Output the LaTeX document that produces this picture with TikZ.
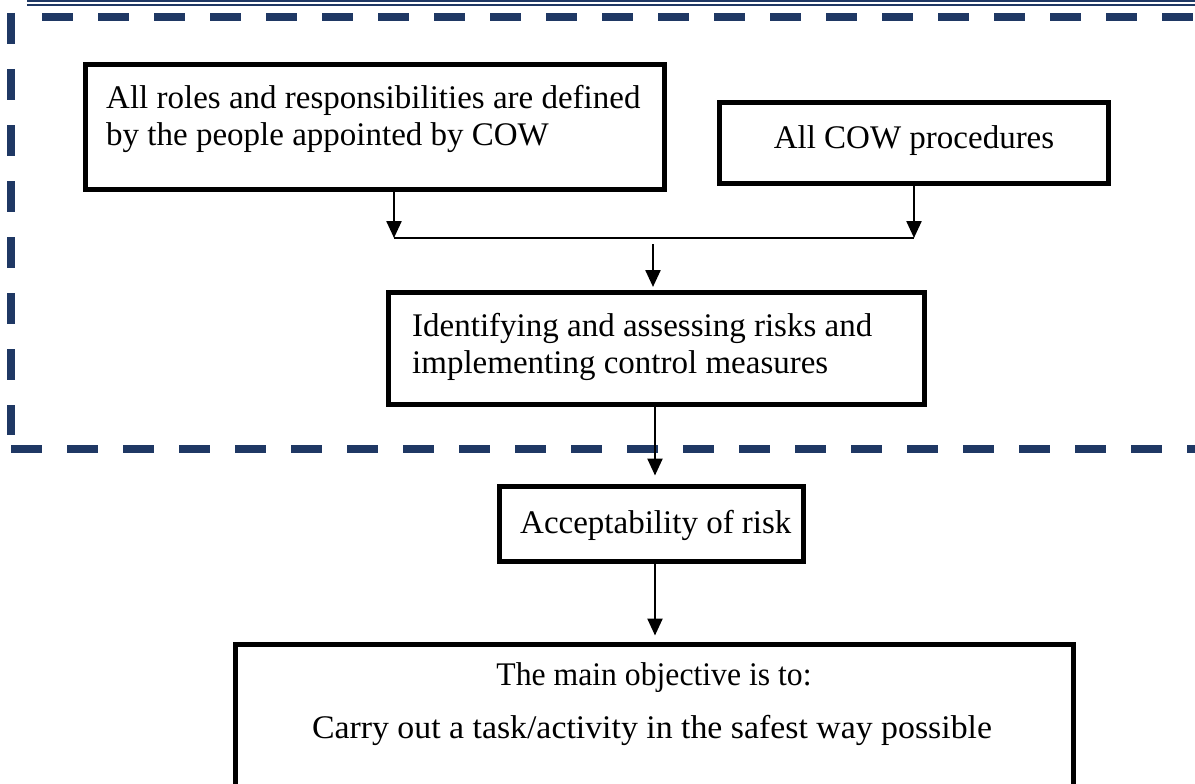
\documentclass[tikz,border=0pt]{standalone}
\usepackage{fontspec}
\usepackage{graphicx}
\setmainfont{Liberation Serif}
\usetikzlibrary{arrows.meta}
\definecolor{navy}{RGB}{31,56,100}
\begin{document}
\begin{tikzpicture}[x=1pt,y=-1pt,
  box/.style={draw=black, line width=5pt, inner sep=0pt},
  txt/.style={inner sep=0pt, anchor=base west, font=\fontsize{33}{37}\selectfont},
  arr/.style={line width=2.4pt, -{Triangle[length=17pt,width=15pt]}},
  bord/.style={draw=navy, line width=8pt, dash pattern=on 31pt off 25pt}]
\useasboundingbox (0,0) rectangle (1195,784);
\clip (0,0) rectangle (1195,784);
% top double rule
\draw[navy, line width=2pt] (27,1) -- (1195,1);
\draw[navy, line width=1.7pt] (27,4.8) -- (1195,4.8);
% dashed frame
\draw[bord] (42,17) -- (1230,17);
\draw[bord] (11,13) -- (11,435);
\draw[bord] (11,449) -- (1230,449);
% boxes
\node[box, minimum width=579.5pt, minimum height=125pt] (b1) at (374.75,127) {};
\node[box, minimum width=389pt, minimum height=80.5pt] (b2) at (914,142.75) {};
\node[box, minimum width=536.5pt, minimum height=112pt] (b3) at (656.25,348.5) {};
\node[box, minimum width=303.5pt, minimum height=75.5pt] (b4) at (651.25,523.75) {};
\node[box, minimum width=838pt, minimum height=176pt] (b5) at (654,732) {};
% texts
\node[txt] (t1a) at (106,108) {All roles and responsibilities are defined};
\node[txt] (t1b) at (106,145) {by the people appointed by COW};
\node[txt, anchor=base] (t2) at (914,148) {All COW procedures};
\node[txt] (t3a) at (412,336) {Identifying and assessing risks and};
\node[txt] (t3b) at (412,373) {implementing control measures};
\node[txt] (t4) at (520,533) {Acceptability of risk};
\node[txt, anchor=base] (t5a) at (654,685) {\resizebox{315pt}{\height}{The main objective is to:}};
\node[txt, anchor=base] (t5b) at (652,738) {\resizebox{680pt}{\height}{Carry out a task/activity in the safest way possible}};
% connectors
\coordinate (j1) at (394,238);
\coordinate (j2) at (914,238);
\coordinate (j3) at (653,244);
\coordinate (ax) at (655,0);
\draw[arr] (b1.south -| j1) -- (j1);
\draw[arr] (b2.south -| j2) -- (j2);
\draw[line width=1.2pt] (j1) -- (j2);
\draw[arr, shorten >=3pt] (j3) -- (b3.north -| j3);
\draw[arr, shorten >=8pt] (b3.south -| ax) -- (b4.north -| ax);
\draw[arr, shorten >=6pt] (b4.south -| ax) -- (b5.north -| ax);
\end{tikzpicture}
\end{document}
